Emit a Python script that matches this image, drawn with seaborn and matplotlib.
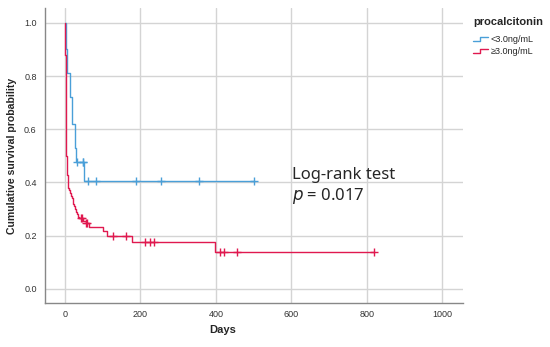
import numpy as np
import pandas as pd
import seaborn as sns
import matplotlib.pyplot as plt
from matplotlib.lines import Line2D
from matplotlib.legend_handler import HandlerBase

# curvas de Kaplan-Meier
low_t = [0, 3, 6, 13, 19, 26, 29, 50, 501]
low_s = [1.0, 0.90, 0.81, 0.72, 0.62, 0.53, 0.476, 0.407, 0.407]
low_cens = [31, 47, 49, 62, 81, 187, 255, 356, 501]

high_t = [0, 0.5, 1, 1.5, 2, 2.5, 3, 3.5, 4, 5, 6, 7, 8, 9, 11, 13, 16, 18, 20,
          22, 24, 26, 28, 31, 34, 37, 48, 55, 64, 102, 111, 177, 398, 818]
high_s = [1.0, 0.95, 0.88, 0.80, 0.72, 0.64, 0.56, 0.50, 0.47, 0.45, 0.43, 0.41,
          0.39, 0.38, 0.37, 0.36, 0.35, 0.34, 0.33, 0.32, 0.31, 0.30, 0.29, 0.28,
          0.272, 0.265, 0.257, 0.247, 0.232, 0.218, 0.20, 0.177, 0.14, 0.14]
high_cens = [42, 45, 55, 58, 127, 162, 212, 224, 235, 411, 422, 457, 818]

groups = ["<3.0ng/mL", "\u22653.0ng/mL"]
cores = ["#4a9fd8", "#e0194f"]


def surv_at(ts, ss, c):
    idx = np.searchsorted(ts, c, side="right") - 1
    return np.array(ss)[idx]


class StepHandler(HandlerBase):
    # ícone em degrau como no SPSS
    def create_artists(self, legend, orig, xd, yd, w, h, fs, trans):
        xs = [xd, xd + w * 0.45, xd + w * 0.45, xd + w]
        ys = [yd + h * 0.25, yd + h * 0.25, yd + h * 0.8, yd + h * 0.8]
        ln = Line2D(xs, ys, color=orig.get_color(), linewidth=1.0, transform=trans)
        return [ln]


curvas = pd.concat([
    pd.DataFrame({"t": low_t, "s": low_s, "g": groups[0]}),
    pd.DataFrame({"t": high_t, "s": high_s, "g": groups[1]}),
])
cens = pd.concat([
    pd.DataFrame({"t": low_cens, "s": surv_at(low_t, low_s, low_cens), "g": groups[0]}),
    pd.DataFrame({"t": high_cens, "s": surv_at(high_t, high_s, high_cens), "g": groups[1]}),
])

sns.set_style("white")
plt.rcParams["font.family"] = ["Liberation Sans", "DejaVu Sans"]

fig = plt.figure(figsize=(5.5, 3.47), dpi=100)
ax = fig.add_axes([45 / 550, 1 - 303 / 347, 418 / 550, 295 / 347])

pal = dict(zip(groups, cores))
for g in groups:
    d = curvas[curvas.g == g]
    sns.lineplot(x=d.t, y=d.s, ax=ax, color=pal[g], drawstyle="steps-post",
                 linewidth=1.0, estimator=None, sort=False)
    c = cens[cens.g == g]
    sns.scatterplot(x=c.t, y=c.s, ax=ax, color=pal[g], marker="+", s=28,
                    linewidth=1.0, zorder=4)

ax.set_xlim(-53, 1055)
ax.set_ylim(-0.053, 1.056)
ax.set_xticks([0, 200, 400, 600, 800, 1000])
ax.set_yticks([0.0, 0.2, 0.4, 0.6, 0.8, 1.0])
ax.set_yticklabels(["0.0", "0.2", "0.4", "0.6", "0.8", "1.0"])
ax.grid(True, color="#d4d4d4", linewidth=1.0)
ax.set_axisbelow(True)
ax.tick_params(labelsize=6.5, colors="#333333", length=0)
ax.tick_params(axis="y", pad=6)
ax.tick_params(axis="x", pad=5)
for sp in ["top", "right"]:
    ax.spines[sp].set_visible(False)
for sp in ["left", "bottom"]:
    ax.spines[sp].set_color("#888888")
    ax.spines[sp].set_linewidth(1.0)

ax.set_xlabel("Days", fontsize=8, fontweight="bold")
ax.set_ylabel("Cumulative survival probability", fontsize=7.6, fontweight="bold")
ax.xaxis.set_label_coords(0.425, -0.075)
ax.yaxis.set_label_coords(-0.066, 0.5)

ax.text(602, 0.46, "Log-rank test", fontsize=12, family=["Noto Sans"], va="top")
ax.text(602, 0.385, "$p$ = 0.017", fontsize=12, family=["Noto Sans"], va="top")

handles = [Line2D([], [], color=cc, linewidth=1.0) for cc in cores]
leg = fig.legend(handles, groups, loc="upper left", bbox_to_anchor=(465 / 550, 1 - 9 / 347),
                 frameon=False, fontsize=6.5, title="procalcitonin", handlelength=1.6,
                 handletextpad=0.3, labelspacing=0.3,
                 handler_map={Line2D: StepHandler()})
leg.get_title().set_fontweight("bold")
leg.get_title().set_fontsize(8)
leg._legend_box.align = "left"
leg._legend_box.sep = 6

fig.savefig("out.png", dpi=100)
